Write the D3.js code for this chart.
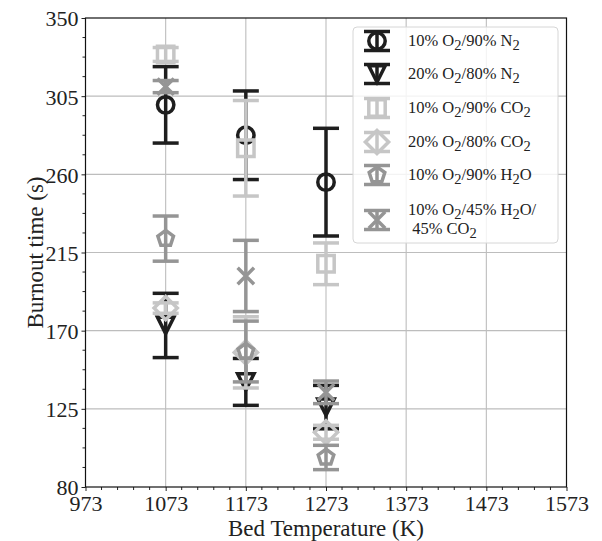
<!DOCTYPE html>
<html>
<head>
<meta charset="utf-8">
<script src="https://cdn.jsdelivr.net/npm/d3@7"></script>
<style>
    body { margin: 0; background: #fff; }
    svg { display: block; font-family: "Liberation Serif", "Times New Roman", serif; }
</style>
</head>
<body>
<svg id="chart" width="602" height="541"></svg>
<script>
// bed temperatures (K)
const temps = [1073, 1173, 1273];
const xTicks = [973, 1073, 1173, 1273, 1373, 1473, 1573];
const yTicks = [80, 125, 170, 215, 260, 305, 350];

// burnout time (s) and error (s) for each atmosphere
const o2n2_10 = [300, 282.5, 255.5];
const o2n2_10Err = [22, 25.5, 31];
const o2n2_20 = [173, 140.5, 126];
const o2n2_20Err = [18.5, 13.5, 12.5];
const o2co2_10 = [329, 275, 208.5];
const o2co2_10Err = [4, 27.5, 12];
const o2co2_20 = [183, 157.5, 111.5];
const o2co2_20Err = [3, 20.5, 4];
const o2h2o_10 = [223, 158, 97];
const o2h2o_10Err = [13, 17.5, 7];
const o2mix_10 = [310.5, 201.5, 134.5];
const o2mix_10Err = [3.5, 20.5, 6.5];

const series = [
    { label: [["10% O"], ["2", true], ["/90% N"], ["2", true]], values: o2n2_10, err: o2n2_10Err, color: "#1e1e1e", marker: "o" },
    { label: [["20% O"], ["2", true], ["/80% N"], ["2", true]], values: o2n2_20, err: o2n2_20Err, color: "#1e1e1e", marker: "v" },
    { label: [["10% O"], ["2", true], ["/90% CO"], ["2", true]], values: o2co2_10, err: o2co2_10Err, color: "#c6c6c6", marker: "s" },
    { label: [["20% O"], ["2", true], ["/80% CO"], ["2", true]], values: o2co2_20, err: o2co2_20Err, color: "#c6c6c6", marker: "D" },
    { label: [["10% O"], ["2", true], ["/90% H"], ["2", true], ["O"]], values: o2h2o_10, err: o2h2o_10Err, color: "#959595", marker: "p" },
    { label: [["10% O"], ["2", true], ["/45% H"], ["2", true], ["O/"]], label2: [[" 45% CO"], ["2", true]], values: o2mix_10, err: o2mix_10Err, color: "#959595", marker: "x" }
];

const margin = { left: 85.5, right: 35.5, top: 18, bottom: 54 };
const width = 602, height = 541;
const lw = 3.5, capW = 13, ms = 8.2;

const svg = d3.select("#chart");

const x = d3.scaleLinear().domain([973, 1573]).range([margin.left, width - margin.right]);
const y = d3.scaleLinear().domain([80, 350]).range([height - margin.bottom, margin.top]);

// grid
const grid = svg.append("g").attr("stroke", "#bdbdbd").attr("stroke-width", 1.1);
grid.selectAll(".gx").data(xTicks.slice(1, -1)).join("line")
    .attr("x1", d => x(d)).attr("x2", d => x(d))
    .attr("y1", y(80)).attr("y2", y(350));
grid.selectAll(".gy").data(yTicks.slice(1, -1)).join("line")
    .attr("x1", x(973)).attr("x2", x(1573))
    .attr("y1", d => y(d)).attr("y2", d => y(d));

// axes
const xAxis = d3.axisBottom(x).tickValues(xTicks).tickFormat(d3.format("d")).tickSize(4).tickPadding(3);
const yAxis = d3.axisLeft(y).tickValues(yTicks).tickFormat(d3.format("d")).tickSize(4).tickPadding(3);

const gx = svg.append("g").attr("transform", "translate(0," + y(80) + ")").call(xAxis);
const gy = svg.append("g").attr("transform", "translate(" + x(973) + ",0)").call(yAxis);
[gx, gy].forEach(g => {
    g.select(".domain").remove();
    g.selectAll("text").attr("font-family", "Liberation Serif").attr("font-size", 22).attr("fill", "#222");
    g.selectAll("line").attr("stroke", "#222");
});
gx.selectAll("text").attr("dy", "0.76em");
gy.selectAll("text").attr("dy", "0.36em");

// minor ticks
const xMinor = d3.range(973, 1573, 20).filter(d => (d - 973) % 100 !== 0);
svg.append("g").selectAll("line").data(xMinor).join("line")
    .attr("x1", d => x(d)).attr("x2", d => x(d))
    .attr("y1", y(80)).attr("y2", y(80) + 3)
    .attr("stroke", "#222");
const yMinor = d3.range(80, 350, 11.25).filter(d => Math.abs((d - 80) % 45) > 0.01);
svg.append("g").selectAll("line").data(yMinor).join("line")
    .attr("x1", x(973) - 3).attr("x2", x(973))
    .attr("y1", d => y(d)).attr("y2", d => y(d))
    .attr("stroke", "#222");

// frame
svg.append("rect")
    .attr("x", x(973)).attr("y", y(350))
    .attr("width", x(1573) - x(973)).attr("height", y(80) - y(350))
    .attr("fill", "none").attr("stroke", "#111").attr("stroke-width", 1.2);

function markerPath(m, s) {
    const p = d3.path();
    if (m === "o") {
        p.moveTo(s, 0);
        p.arc(0, 0, s, 0, 2 * Math.PI);
    } else if (m === "s") {
        p.rect(-s, -s, 2 * s, 2 * s);
    } else if (m === "D") {
        const r = s * 1.414;
        p.moveTo(0, -r); p.lineTo(r, 0); p.lineTo(0, r); p.lineTo(-r, 0); p.closePath();
    } else if (m === "v") {
        p.moveTo(0, s); p.lineTo(-s, -s); p.lineTo(s, -s); p.closePath();
    } else if (m === "p") {
        for (let k = 0; k < 5; k++) {
            const a = -Math.PI / 2 + k * 2 * Math.PI / 5;
            const px = s * Math.cos(a), py = s * Math.sin(a);
            if (k === 0) p.moveTo(px, py); else p.lineTo(px, py);
        }
        p.closePath();
    } else if (m === "x") {
        p.moveTo(-s, -s); p.lineTo(s, s);
        p.moveTo(-s, s); p.lineTo(s, -s);
    }
    return p.toString();
}

function drawErrorbar(g, cx, cy, top, bottom, s) {
    g.append("line")
        .attr("x1", cx).attr("x2", cx).attr("y1", top).attr("y2", bottom)
        .attr("stroke", s.color).attr("stroke-width", lw);
    [top, bottom].forEach(v => {
        g.append("line")
            .attr("x1", cx - capW).attr("x2", cx + capW).attr("y1", v).attr("y2", v)
            .attr("stroke", s.color).attr("stroke-width", lw);
    });
    g.append("path")
        .attr("d", markerPath(s.marker, ms))
        .attr("transform", "translate(" + cx + "," + cy + ")")
        .attr("fill", "none").attr("stroke", s.color).attr("stroke-width", lw)
        .attr("stroke-linejoin", "miter");
}

// data
const plot = svg.append("g");
series.forEach(s => {
    const g = plot.append("g");
    temps.forEach((t, i) => {
        drawErrorbar(g, x(t), y(s.values[i]), y(s.values[i] + s.err[i]), y(s.values[i] - s.err[i]), s);
    });
});

// legend
const leg = svg.append("g");
leg.append("rect")
    .attr("x", 353).attr("y", 27).attr("width", 205).attr("height", 216).attr("rx", 4)
    .attr("fill", "#fff").attr("fill-opacity", 0.82)
    .attr("stroke", "#d6d6d6").attr("stroke-width", 1);

const rowY = [41, 74, 108, 142, 175, 220];

function addText(parent, parts, tx, ty) {
    const t = parent.append("text").attr("x", tx).attr("y", ty)
        .attr("font-size", 16.5).attr("fill", "#222").attr("xml:space", "preserve");
    parts.forEach(([str, sub]) => {
        t.append("tspan").text(str)
            .attr("font-size", sub ? 14.5 : null)
            .attr("dy", sub ? 3.5 : (t.selectAll("tspan").size() > 1 ? -3.5 : 0));
    });
}

series.forEach((s, i) => {
    const cy = rowY[i];
    drawErrorbar(leg, 377, cy, cy - 9.5, cy + 9.5, s);
    if (s.label2) {
        addText(leg, s.label, 408, cy - 5);
        addText(leg, s.label2, 408, cy + 14);
    } else {
        addText(leg, s.label, 408, cy + 5);
    }
});

// axis titles
svg.append("text")
    .attr("x", (x(973) + x(1573)) / 2).attr("y", 536)
    .attr("text-anchor", "middle").attr("font-size", 23).attr("fill", "#222")
    .text("Bed Temperature (K)");
svg.append("text")
    .attr("transform", "translate(43," + (y(80) + y(350)) / 2 + ") rotate(-90)")
    .attr("text-anchor", "middle").attr("font-size", 23).attr("fill", "#222")
    .text("Burnout time (s)");
</script>
</body>
</html>
